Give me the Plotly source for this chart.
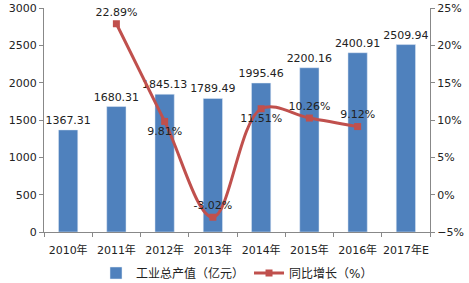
import plotly.graph_objects as go

years = ["2010年", "2011年", "2012年", "2013年", "2014年", "2015年", "2016年", "2017年E"]
output = [1367.31, 1680.31, 1845.13, 1789.49, 1995.46, 2200.16, 2400.91, 2509.94]
growth_years = ["2011年", "2012年", "2013年", "2014年", "2015年", "2016年"]
growth = [22.89, 9.81, -3.02, 11.51, 10.26, 9.12]
growth_pos = ["top center", "bottom center", "top center", "bottom center", "top center", "top center"]

font = "DejaVu Sans, Noto Sans CJK SC, sans-serif"

fig = go.Figure()
fig.add_trace(go.Bar(
    x=years, y=output, name="工业总产值（亿元）",
    marker=dict(color="#4F81BD"),
    text=[f"{v:.2f}" for v in output], textposition="outside",
    constraintext="none",
    textfont=dict(size=11, color="#222"), cliponaxis=False,
))
fig.add_trace(go.Scatter(
    x=growth_years, y=growth, name="同比增长（%）", yaxis="y2",
    mode="lines+markers+text",
    line=dict(color="#C0504D", width=3, shape="spline", smoothing=1),
    marker=dict(symbol="square", size=7, color="#C0504D"),
    text=[f"{v:.2f}%" for v in growth], textposition=growth_pos,
    textfont=dict(size=11, color="#222"), cliponaxis=False,
))

fig.update_layout(
    width=469, height=283,
    margin=dict(l=44, r=39, t=8, b=51, autoexpand=False),
    paper_bgcolor="white", plot_bgcolor="white",
    font=dict(family=font, size=11, color="#222"),
    bargap=0.6,
    showlegend=True,
    uniformtext=dict(minsize=11, mode="show"),
    legend=dict(orientation="h", x=0.5, xanchor="center",
                yref="container", y=10 / 283, yanchor="middle",
                font=dict(size=12), itemwidth=30, tracegroupgap=0),
    xaxis=dict(showline=True, linecolor="#888", ticks="outside", ticklen=4,
               tickcolor="#888", showgrid=False, tickson="boundaries",
               tickangle=0, tickfont=dict(size=11), ticklabelstandoff=8),
    yaxis=dict(range=[0, 3000], dtick=500, showline=True, linecolor="#888",
               ticks="outside", ticklen=4, tickcolor="#888", showgrid=False,
               zeroline=False, tickfont=dict(size=11)),
    yaxis2=dict(range=[-5, 25], dtick=5, overlaying="y", side="right",
                showline=True, linecolor="#888", ticks="outside", ticklen=4,
                tickcolor="#888", showgrid=False, zeroline=False,
                ticksuffix="%", tickfont=dict(size=11)),
)

fig.write_html("out.html")
